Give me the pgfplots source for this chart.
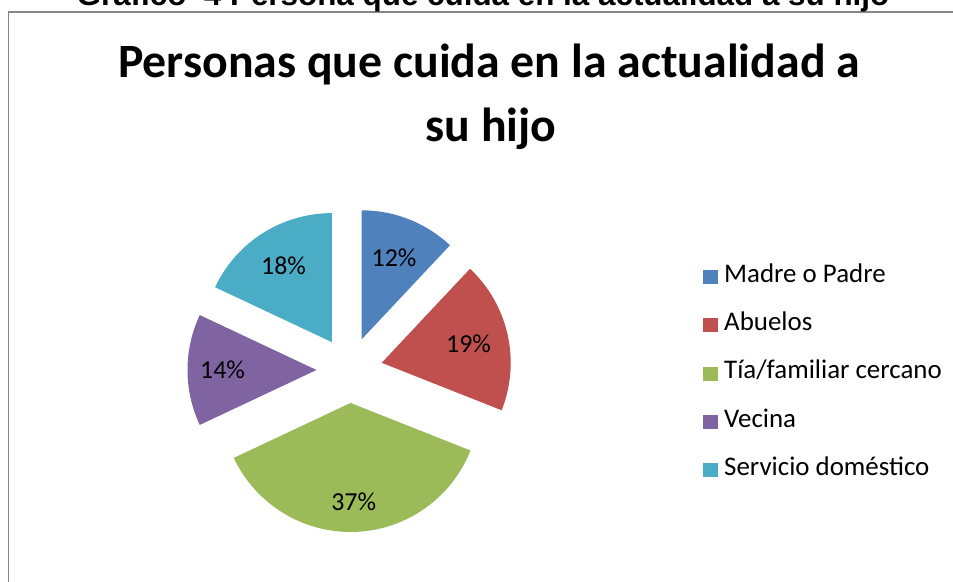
\documentclass[border=0pt]{standalone}
\usepackage{pgfplots}
\usepackage{pgfplotstable}
\pgfplotsset{compat=1.18}
\usepackage{fontspec}
\setmainfont{Carlito}
\newfontfamily\arialfont{Liberation Sans}
\definecolor{slice0}{HTML}{4F81BD}
\definecolor{slice1}{HTML}{C0504D}
\definecolor{slice2}{HTML}{9BBB59}
\definecolor{slice3}{HTML}{8064A2}
\definecolor{slice4}{HTML}{4BACC6}
\definecolor{framegray}{HTML}{868686}

% value = percentage; lab = distance of the % label from the slice tip (bp)
\pgfplotstableread[col sep=comma]{
name,value,lab
Madre o Padre,12,88
Abuelos,19,89
Tía/familiar cercano,37,99
Vecina,14,94
Servicio doméstico,18,90
}\slices

\begin{document}
\begin{tikzpicture}[x=1bp,y=1bp]
\clip (0,0) rectangle (953,582);
\path[use as bounding box] (0,0) rectangle (953,582);
% frame of the chart area
\draw[framegray, line width=1.5bp] (8.5,-5) -- (8.5,570) -- (970,570);
% caption above the chart (cut off by the picture's top edge)
\node[anchor=base, font=\arialfont\bfseries\fontsize{31.5}{36}\selectfont, inner sep=0pt]
  at (483,576) {Gráfico \ 4 Persona que cuida en la actualidad a su hijo};
\begin{axis}[
  x=1bp, y=1bp,
  xmin=0, xmax=953, ymin=0, ymax=582,
  at={(0,0)}, anchor=origin,
  hide axis,
  clip=false,
  legend cell align=left,
  legend image code/.code={\fill[#1] (0bp,-7bp) rectangle (15bp,7bp);},
  legend style={draw=none, fill=none, at={(axis cs:700,319)}, anchor=north west,
    font=\fontsize{27}{32}\selectfont, row sep=24.3bp,
    nodes={inner sep=0pt, text height=17bp, text depth=7bp},
    /tikz/every odd column/.append style={column sep=6bp}},
]
\def\cum{0}
\pgfplotsforeachungrouped \i in {0,...,4}{%
  \pgfplotstablegetelem{\i}{value}\of\slices \let\v\pgfplotsretval
  \pgfplotstablegetelem{\i}{lab}\of\slices \let\L\pgfplotsretval
  \pgfplotstablegetelem{\i}{name}\of\slices \let\nm\pgfplotsretval
  \pgfmathsetmacro\aa{90-3.6*\cum}%
  \pgfmathsetmacro\ab{90-3.6*(\cum+\v)}%
  \pgfmathsetmacro\am{(\aa+\ab)/2}%
  \pgfmathsetmacro\vx{349.5+33*cos(\am)}%
  \pgfmathsetmacro\vy{212+33*sin(\am)}%
  \pgfmathsetmacro\lx{\vx+\L*cos(\am)}%
  \pgfmathsetmacro\ly{\vy+\L*sin(\am)}%
  \edef\temp{%
    \noexpand\addplot[fill=slice\i, draw=none, domain=\ab:\aa, samples=80, variable=\noexpand\t]
      ({\vx+129*cos(\noexpand\t)},{\vy+129*sin(\noexpand\t)}) -- (axis cs:\vx,\vy) -- cycle;
    \noexpand\addlegendentry{\nm}
    \noexpand\node[font=\noexpand\fontsize{26}{31}\noexpand\selectfont] at (axis cs:\lx,\ly) {\v\noexpand\%};
  }%
  \temp
  \pgfmathsetmacro\cum{\cum+\v}%
}
\end{axis}
% chart title
\node[anchor=base, font=\bfseries\fontsize{48}{56}\selectfont, inner sep=0pt]
  at (489,504) {Personas que cuida en la actualidad a};
\node[anchor=base, font=\bfseries\fontsize{48}{56}\selectfont, inner sep=0pt]
  at (491,440) {su hijo};
\end{tikzpicture}
\end{document}
